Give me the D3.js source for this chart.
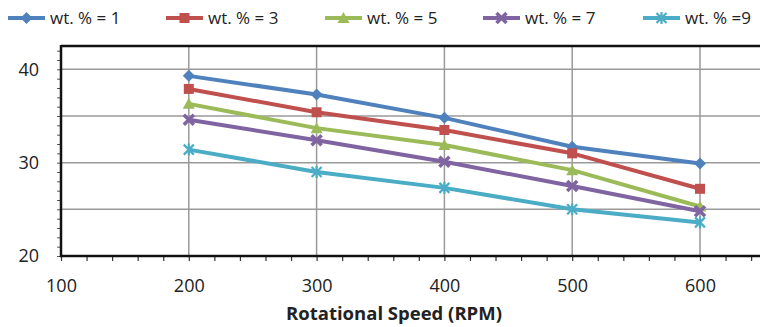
<!DOCTYPE html>
<html>
<head>
<meta charset="utf-8">
<script src="https://cdn.jsdelivr.net/npm/d3@7"></script>
<style>
  html, body { margin: 0; padding: 0; background: #fff; }
  svg { display: block; }
  text { font-family: "Open Sans", "DejaVu Sans", sans-serif; fill: #222; }
</style>
</head>
<body>
<svg id="chart" width="760" height="327"></svg>
<script>
// Rotational speed (RPM) on the x axis
const speeds = [200, 300, 400, 500, 600];

// One series per weight percentage
const seriesNames = ["wt. % = 1", "wt. % = 3", "wt. % = 5", "wt. % = 7", "wt. % =9"];
const wt1 = [39.3, 37.3, 34.8, 31.7, 29.9];
const wt3 = [37.9, 35.4, 33.5, 31.0, 27.2];
const wt5 = [36.3, 33.7, 31.9, 29.2, 25.3];
const wt7 = [34.6, 32.4, 30.1, 27.5, 24.8];
const wt9 = [31.4, 29.0, 27.3, 25.0, 23.6];

const xTickLabels = [100, 200, 300, 400, 500, 600];
const yTickLabels = [20, 30, 40];
const yGridValues = [25, 30, 35, 40];
const xTitle = "Rotational Speed (RPM)";

const colors = ["#4F81BD", "#C0504D", "#9BBB59", "#8064A2", "#4BACC6"];
const markers = ["diamond", "square", "triangle", "cross", "star"];
const allSeries = [wt1, wt3, wt5, wt7, wt9];

const svg = d3.select("#chart");

const plot = { left: 61, top: 46, right: 760, bottom: 256 };

const x = d3.scaleLinear().domain([100, 650]).range([plot.left, plot.left + 550 * 1.278]);
const y = d3.scaleLinear().domain([20, 42.5]).range([plot.bottom, plot.top]);

// Gridlines
const grid = svg.append("g");
grid.selectAll("line.h").data(yGridValues).join("line")
  .attr("x1", plot.left).attr("x2", plot.right)
  .attr("y1", d => y(d)).attr("y2", d => y(d))
  .attr("stroke", "#9a9a9a").attr("stroke-width", 1.5);
grid.selectAll("line.v").data(xTickLabels.filter(d => d > 100)).join("line")
  .attr("y1", plot.top).attr("y2", plot.bottom)
  .attr("x1", d => x(d)).attr("x2", d => x(d))
  .attr("stroke", "#9a9a9a").attr("stroke-width", 1.5);

// Top frame line
svg.append("line")
  .attr("x1", plot.left).attr("x2", plot.right)
  .attr("y1", plot.top).attr("y2", plot.top)
  .attr("stroke", "#111").attr("stroke-width", 2.5);

// X axis: minor ticks every 20, labels every 100
const xAxis = d3.axisBottom(x)
  .tickValues(d3.range(100, 651, 20))
  .tickSize(5)
  .tickFormat(d => (d % 100 === 0 && d <= 600) ? d : "");
const gx = svg.append("g").attr("transform", `translate(0,${plot.bottom})`).call(xAxis);
gx.select(".domain").remove();
gx.selectAll(".tick line").attr("stroke", "#333").attr("stroke-width", 1.2);
gx.selectAll(".tick text").attr("font-size", 18).attr("y", 17).attr("dy", "1.05em").attr("fill", "#222");

// Y axis: minor ticks every 1, labels every 10
const yAxis = d3.axisLeft(y)
  .tickValues(d3.range(20, 43, 1))
  .tickSize(4)
  .tickFormat(d => yTickLabels.includes(d) ? d : "");
const gy = svg.append("g").attr("transform", `translate(${plot.left},0)`).call(yAxis);
gy.select(".domain").remove();
gy.selectAll(".tick line").attr("stroke", "#555").attr("stroke-width", 1);
gy.selectAll(".tick text").attr("font-size", 18).attr("x", -22).attr("fill", "#222");

// Axis frame lines (left and bottom)
svg.append("line")
  .attr("x1", plot.left).attr("x2", plot.left)
  .attr("y1", plot.top - 1).attr("y2", plot.bottom + 1)
  .attr("stroke", "#111").attr("stroke-width", 2.5);
svg.append("line")
  .attr("x1", plot.left - 1).attr("x2", plot.right)
  .attr("y1", plot.bottom).attr("y2", plot.bottom)
  .attr("stroke", "#111").attr("stroke-width", 2.5);

// Marker drawing
function drawMarker(g, type, color, cx, cy, s) {
  const h = s / 2;
  if (type === "diamond") {
    g.append("path").attr("d", `M${cx},${cy - h - 1}L${cx + h + 1},${cy}L${cx},${cy + h + 1}L${cx - h - 1},${cy}Z`)
      .attr("fill", color);
  } else if (type === "square") {
    g.append("rect").attr("x", cx - h).attr("y", cy - h).attr("width", s).attr("height", s).attr("fill", color);
  } else if (type === "triangle") {
    g.append("path").attr("d", `M${cx},${cy - h - 1}L${cx + h + 1},${cy + h}L${cx - h - 1},${cy + h}Z`)
      .attr("fill", color);
  } else if (type === "cross") {
    g.append("path").attr("d", `M${cx - h},${cy - h}L${cx + h},${cy + h}M${cx + h},${cy - h}L${cx - h},${cy + h}`)
      .attr("stroke", color).attr("stroke-width", 3.5);
  } else if (type === "star") {
    g.append("path").attr("d", `M${cx - h},${cy - h}L${cx + h},${cy + h}M${cx + h},${cy - h}L${cx - h},${cy + h}M${cx},${cy - h - 1}L${cx},${cy + h + 1}`)
      .attr("stroke", color).attr("stroke-width", 2.2);
  }
}

const line = d3.line().x((d, i) => x(speeds[i])).y(d => y(d));

allSeries.forEach((vals, k) => {
  const g = svg.append("g");
  g.append("path").datum(vals).attr("d", line)
    .attr("fill", "none").attr("stroke", colors[k]).attr("stroke-width", 4)
    .attr("stroke-linejoin", "round");
  vals.forEach((v, i) => drawMarker(g, markers[k], colors[k], x(speeds[i]), y(v), 10));
});

// Legend
const legendX = [8, 166, 325, 483, 643];
const legend = svg.append("g");
seriesNames.forEach((name, k) => {
  const lx = legendX[k], ly = 18;
  legend.append("line").attr("x1", lx).attr("x2", lx + 37).attr("y1", ly).attr("y2", ly)
    .attr("stroke", colors[k]).attr("stroke-width", 4);
  drawMarker(legend, markers[k], colors[k], lx + 18.5, ly, 10);
  legend.append("text").attr("x", lx + 42).attr("y", ly + 6)
    .attr("font-size", 17).text(name);
});

// X axis title
svg.append("text")
  .attr("x", 394).attr("y", 320)
  .attr("text-anchor", "middle")
  .attr("font-size", 18.5).attr("font-weight", "bold")
  .text(xTitle);
</script>
</body>
</html>
